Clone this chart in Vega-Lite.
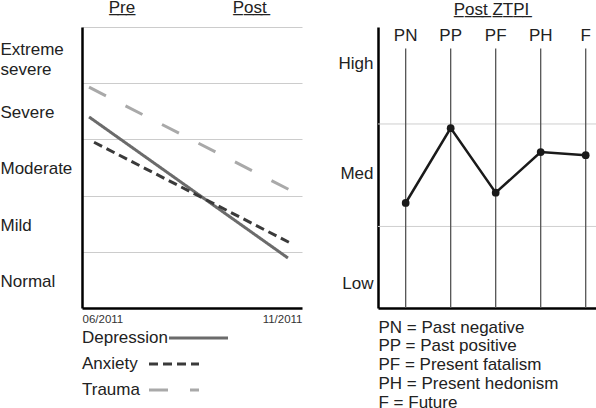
{
  "$schema": "https://vega.github.io/schema/vega-lite/v6.json",
  "padding": {"top": -2, "left": 0, "right": 0, "bottom": 0},
  "background": "white",
  "spacing": 36,
  "config": {
    "view": {"stroke": null},
    "font": "Liberation Sans",
    "axis": {"labelFont": "Liberation Sans", "titleFont": "Liberation Sans"},
    "legend": {"labelFont": "Liberation Sans"},
    "title": {"font": "Liberation Sans"}
  },
  "hconcat": [
    {
      "width": 220,
      "height": 281,
      "layer": [
        {
          "data": {
            "values": [
              {"series": "Depression", "t": 0.0, "level": 3.40},
              {"series": "Depression", "t": 0.99, "level": 0.89},
              {"series": "Anxiety", "t": 0.025, "level": 2.95},
              {"series": "Anxiety", "t": 1.0, "level": 1.16},
              {"series": "Trauma", "t": 0.0, "level": 3.93},
              {"series": "Trauma", "t": 1.01, "level": 2.08}
            ]
          },
          "mark": {"type": "line", "strokeWidth": 3, "strokeCap": "butt"},
          "encoding": {
            "x": {
              "field": "t", "type": "quantitative",
              "scale": {"domain": [-0.035, 1.06], "nice": false, "zero": false},
              "axis": {
                "values": [-0.035, 1.06], "labelFlush": true,
                "labelExpr": "datum.value < 0.5 ? '06/2011' : '11/2011'",
                "ticks": false, "grid": false, "domainColor": "#000", "domainWidth": 2.5,
                "labelFontSize": 11.5, "labelColor": "#333", "labelPadding": 5, "title": null
              }
            },
            "y": {
              "field": "level", "type": "quantitative",
              "scale": {"domain": [0, 5], "nice": false, "zero": false},
              "axis": {
                "values": [1, 2, 3, 4, 5], "grid": true, "gridColor": "#cccccc", "gridWidth": 1,
                "ticks": false, "domainColor": "#000", "domainWidth": 2.5,
                "labelAlign": "left", "labelPadding": 82,
                "labelOffset": {"condition": {"test": "datum.value == 5", "value": 22}, "value": 29.5},
                "labelBaseline": "middle",
                "labelFontSize": 17, "labelColor": "#222", "labelLineHeight": 20, "labelOverlap": false,
                "labelExpr": "datum.value == 5 ? ['Extreme', 'severe'] : datum.value == 4 ? 'Severe' : datum.value == 3 ? 'Moderate' : datum.value == 2 ? 'Mild' : 'Normal'",
                "title": null
              }
            },
            "color": {
              "field": "series", "type": "nominal",
              "scale": {"domain": ["Depression", "Anxiety", "Trauma"], "range": ["#6b6b6b", "#3a3a3a", "#a9a9a9"]},
              "legend": {
                "title": null, "orient": "none", "legendX": 0, "legendY": 302.5, "direction": "vertical",
                "padding": 0, "symbolType": "stroke", "symbolStrokeWidth": 3, "symbolSize": 2500,
                "labelFontSize": 17, "labelColor": "#222", "labelLimit": 200, "rowPadding": 8,
                "encode": {
                  "symbols": {"update": {
                    "x": {"signal": "datum.value === 'Depression' ? 116.5 : 92"},
                    "y": {"value": 8.5},
                    "size": {"signal": "datum.value === 'Depression' ? 3481 : 2500"}
                  }},
                  "labels": {"update": {"x": {"value": 0}, "y": {"value": 8.5}}}
                }
              }
            },
            "strokeDash": {
              "field": "series", "type": "nominal",
              "scale": {"domain": ["Depression", "Anxiety", "Trauma"], "range": [[1, 0], [9, 5], [19, 22]]},
              "legend": {
                "title": null, "orient": "none", "legendX": 0, "legendY": 302.5, "direction": "vertical",
                "padding": 0, "symbolType": "stroke", "symbolStrokeWidth": 3, "symbolSize": 2500,
                "labelFontSize": 17, "labelColor": "#222", "labelLimit": 200, "rowPadding": 8,
                "encode": {
                  "symbols": {"update": {
                    "x": {"signal": "datum.value === 'Depression' ? 116.5 : 92"},
                    "y": {"value": 8.5},
                    "size": {"signal": "datum.value === 'Depression' ? 3481 : 2500"}
                  }},
                  "labels": {"update": {"x": {"value": 0}, "y": {"value": 8.5}}}
                }
              }
            }
          }
        },
        {
          "data": {"values": [{"label": "P̲r̲e̲", "t": 0.164}, {"label": "P̲o̲s̲t̲", "t": 0.8}]},
          "mark": {"type": "text", "fontSize": 17, "baseline": "middle", "align": "center", "color": "#222"},
          "encoding": {
            "x": {"field": "t", "type": "quantitative"},
            "y": {"datum": 5.34, "type": "quantitative"},
            "text": {"field": "label"}
          }
        }
      ]
    },
    {
      "width": 219,
      "height": 281,
      "title": {"text": "P̲o̲s̲t̲ Z̲T̲P̲I̲", "fontSize": 17, "fontWeight": "normal", "color": "#222", "anchor": "middle", "offset": 8, "dx": 4},
      "data": {
        "values": [
          {"scale": "PN", "v": 1.733},
          {"scale": "PP", "v": 2.412},
          {"scale": "PF", "v": 1.826},
          {"scale": "PH", "v": 2.195},
          {"scale": "F", "v": 2.167}
        ]
      },
      "layer": [
        {
          "data": {"values": [{"g": 1.52}, {"g": 2.45}]},
          "mark": {"type": "rule", "color": "#cfcfcf", "strokeWidth": 1},
          "encoding": {
            "y": {
              "field": "g", "type": "quantitative",
              "scale": {"domain": [0.78, 3.33], "nice": false, "zero": false},
              "axis": {
                "values": [1, 2, 3], "labelExpr": "datum.value == 1 ? 'Low' : datum.value == 2 ? 'Med' : 'High'",
                "ticks": false, "grid": false, "domainColor": "#000", "domainWidth": 2.5,
                "labelPadding": 5, "labelFontSize": 17, "labelColor": "#222", "title": null
              }
            }
          }
        },
        {
          "mark": {"type": "rule", "color": "#555555", "strokeWidth": 1.3},
          "encoding": {
            "x": {
              "field": "scale", "type": "nominal", "sort": null,
              "scale": {"type": "point", "domain": ["PN", "PP", "PF", "PH", "F"], "padding": 0.433, "align": 0.71},
              "axis": {
                "orient": "bottom", "labels": false, "ticks": false, "grid": false,
                "domainColor": "#000", "domainWidth": 2.5,
                "title": ["PN = Past negative", "PP = Past positive", "PF = Present fatalism", "PH = Present hedonism", "F = Future"],
                "titleAnchor": "start", "titleAlign": "left", "titleBaseline": "top", "titleFontSize": 17, "titleFontWeight": "normal",
                "titleLineHeight": 18.8, "titlePadding": 11, "titleColor": "#222"
              }
            },
            "y": {"datum": 0.78, "type": "quantitative"},
            "y2": {"datum": 3.136}
          }
        },
        {
          "mark": {"type": "line", "color": "#1a1a1a", "strokeWidth": 2.5, "point": {"filled": true, "size": 60, "color": "#1a1a1a"}},
          "encoding": {
            "x": {"field": "scale", "type": "nominal", "sort": null},
            "y": {"field": "v", "type": "quantitative"}
          }
        },
        {
          "mark": {"type": "text", "fontSize": 17, "color": "#222", "baseline": "middle", "align": "center"},
          "encoding": {
            "x": {"field": "scale", "type": "nominal", "sort": null},
            "y": {"datum": 3.244, "type": "quantitative"},
            "text": {"field": "scale"}
          }
        }
      ]
    }
  ]
}
